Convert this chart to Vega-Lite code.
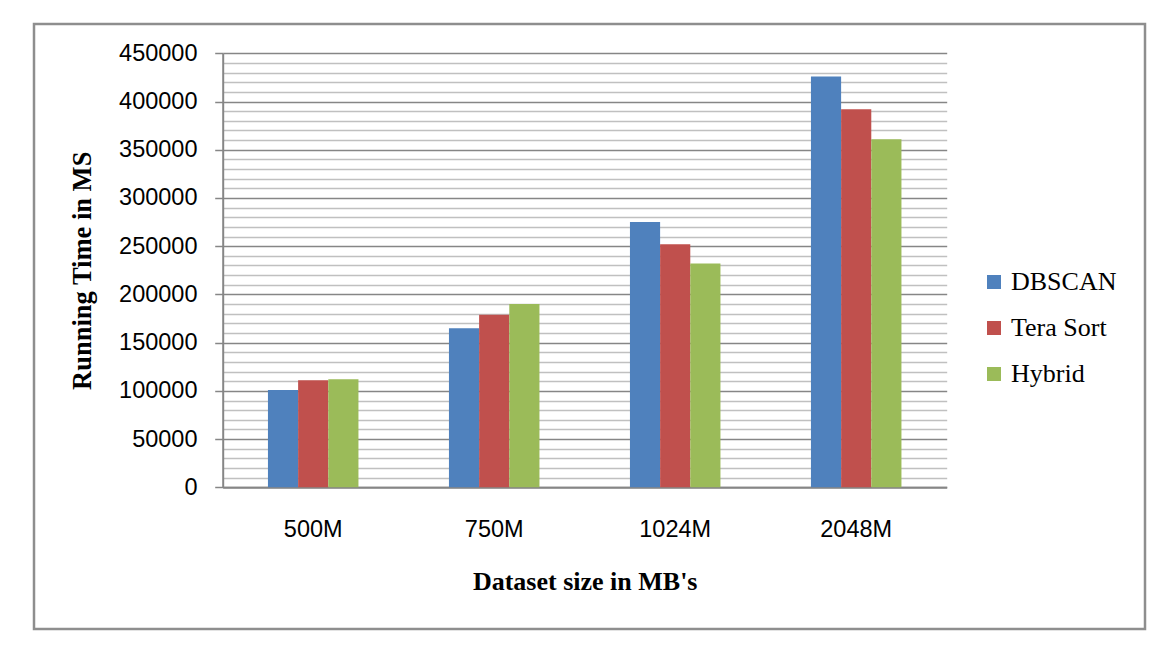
{
  "$schema": "https://vega.github.io/schema/vega-lite/v6.json",
  "width": 1111,
  "height": 605,
  "autosize": {"type": "none"},
  "padding": {"left": 34, "top": 24, "right": 12, "bottom": 35},
  "background": "white",
  "data": {
    "values": [
      {"size": "500M", "method": "DBSCAN", "time": 101000},
      {"size": "500M", "method": "Tera Sort", "time": 111000},
      {"size": "500M", "method": "Hybrid", "time": 112000},
      {"size": "750M", "method": "DBSCAN", "time": 165000},
      {"size": "750M", "method": "Tera Sort", "time": 179000},
      {"size": "750M", "method": "Hybrid", "time": 190000},
      {"size": "1024M", "method": "DBSCAN", "time": 275000},
      {"size": "1024M", "method": "Tera Sort", "time": 252000},
      {"size": "1024M", "method": "Hybrid", "time": 232000},
      {"size": "2048M", "method": "DBSCAN", "time": 426000},
      {"size": "2048M", "method": "Tera Sort", "time": 392000},
      {"size": "2048M", "method": "Hybrid", "time": 361000}
    ]
  },
  "mark": {"type": "bar"},
  "encoding": {
    "x": {
      "field": "size",
      "type": "nominal",
      "sort": ["500M", "750M", "1024M", "2048M"],
      "scale": {"range": [188.7, 912.7], "paddingInner": 0.5, "paddingOuter": 0.25},
      "axis": {
        "title": "Dataset size in MB's",
        "offset": -141.7,
        "ticks": false,
        "tickSize": 0,
        "grid": false,
        "labelAngle": 0,
        "labelFont": "Liberation Sans",
        "labelFontSize": 23.5,
        "labelColor": "black",
        "labelPadding": 30,
        "domainColor": "#868686",
        "domainWidth": 2,
        "titleFont": "Liberation Serif",
        "titleFontSize": 26,
        "titleFontWeight": "bold",
        "titleColor": "black",
        "titlePadding": 28
      }
    },
    "xOffset": {
      "field": "method",
      "type": "nominal",
      "sort": ["DBSCAN", "Tera Sort", "Hybrid"],
      "scale": {"paddingInner": 0, "paddingOuter": 0}
    },
    "y": {
      "field": "time",
      "type": "quantitative",
      "scale": {"domain": [0, 450000], "range": [463.3, 29.3], "nice": false},
      "axis": {
        "title": "Running Time in MS",
        "offset": -188.7,
        "values": [0, 10000, 20000, 30000, 40000, 50000, 60000, 70000, 80000, 90000, 100000, 110000, 120000, 130000, 140000, 150000, 160000, 170000, 180000, 190000, 200000, 210000, 220000, 230000, 240000, 250000, 260000, 270000, 280000, 290000, 300000, 310000, 320000, 330000, 340000, 350000, 360000, 370000, 380000, 390000, 400000, 410000, 420000, 430000, 440000, 450000],
        "format": "d",
        "labelExpr": "datum.value % 50000 === 0 ? datum.label : ''",
        "labelOverlap": false,
        "labelFlush": false,
        "gridColor": {"condition": {"test": "datum.value % 50000 === 0", "value": "#868686"}, "value": "#c0c0c0"},
        "gridWidth": 1.5,
        "tickOpacity": {"condition": {"test": "datum.value % 50000 === 0", "value": 1}, "value": 0},
        "tickSize": 8,
        "tickColor": "#868686",
        "tickWidth": 1.5,
        "domainColor": "#868686",
        "domainWidth": 2,
        "labelFont": "Liberation Sans",
        "labelFontSize": 23.5,
        "labelColor": "black",
        "labelPadding": 17.7,
        "titleFont": "Liberation Serif",
        "titleFontSize": 26.5,
        "titleFontWeight": "bold",
        "titleColor": "black",
        "titlePadding": 22
      }
    },
    "color": {
      "field": "method",
      "type": "nominal",
      "sort": ["DBSCAN", "Tera Sort", "Hybrid"],
      "scale": {"domain": ["DBSCAN", "Tera Sort", "Hybrid"], "range": ["#4F81BD", "#C0504D", "#9BBB59"]},
      "legend": {
        "title": null,
        "orient": "none",
        "legendX": 947,
        "legendY": 245,
        "padding": 0,
        "symbolType": "square",
        "symbolSize": 196,
        "symbolStrokeWidth": 0,
        "labelFont": "Liberation Serif",
        "labelFontSize": 26,
        "labelColor": "black",
        "labelOffset": 4,
        "rowPadding": 20
      }
    }
  },
  "config": {"view": {"stroke": "#8e8e8e", "strokeWidth": 2.5}}
}
